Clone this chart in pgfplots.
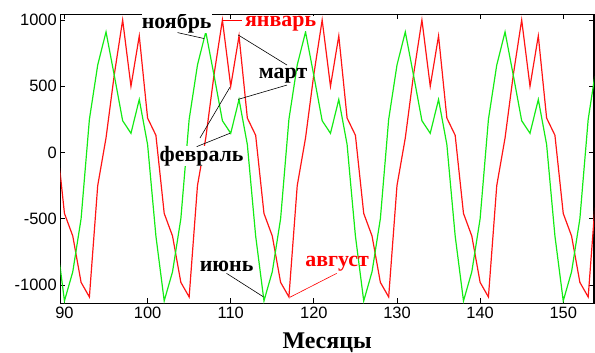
\documentclass[border=0pt]{standalone}
\usepackage{fontspec}
\setmainfont{Liberation Serif}
\setsansfont{Liberation Sans}
\usepackage{pgfplots}
\pgfplotsset{compat=1.18}
\definecolor{cred}{RGB}{255,20,20}
\definecolor{cgreen}{RGB}{20,235,20}
\begin{document}
\begin{tikzpicture}
\useasboundingbox (0,0) rectangle (595bp,353bp);
\begin{axis}[
  at={(60.3bp,49.7bp)}, anchor=south west,
  scale only axis, width=533.7bp, height=289bp,
  xmin=89.5, xmax=153.7, ymin=-1138, ymax=1043,
  xtick={90,100,...,150}, ytick={-1000,-500,0,500,1000},
  tick align=inside, major tick length=5bp,
  axis line style={line width=1.1bp},
  tick style={black, line width=0.8bp},
  ticklabel style={font=\sffamily\fontsize{16.5}{19}\selectfont},
  /pgf/number format/assume math mode=true,
  /pgf/number format/1000 sep={},
  xlabel={\bfseries Месяцы},
  xlabel style={font=\fontsize{24}{28}\selectfont, at={(axis description cs:0.5,-0.137)}, anchor=center},
  clip=true,
]
\addplot[cred, line width=1.2bp] coordinates {
(89,130) (90,-460) (91,-630) (92,-980)
(93,-1090) (94,-250) (95,110) (96,590) (97,1000) (98,500) (99,880) (100,260) (101,130) (102,-460) (103,-630) (104,-980)
(105,-1090) (106,-250) (107,110) (108,590) (109,1000) (110,500) (111,880) (112,260) (113,130) (114,-460) (115,-630) (116,-980)
(117,-1090) (118,-250) (119,110) (120,590) (121,1000) (122,500) (123,880) (124,260) (125,130) (126,-460) (127,-630) (128,-980)
(129,-1090) (130,-250) (131,110) (132,590) (133,1000) (134,500) (135,880) (136,260) (137,130) (138,-460) (139,-630) (140,-980)
(141,-1090) (142,-250) (143,110) (144,590) (145,1000) (146,500) (147,880) (148,260) (149,130) (150,-460) (151,-630) (152,-980)
(153,-1090) (154,-250)
};
\addplot[cgreen, line width=1.2bp] coordinates {
(89,-630)
(90,-1120) (91,-900) (92,-500) (93,250) (94,660) (95,910) (96,580) (97,240) (98,145) (99,400) (100,60) (101,-630)
(102,-1120) (103,-900) (104,-500) (105,250) (106,660) (107,910) (108,580) (109,240) (110,145) (111,400) (112,60) (113,-630)
(114,-1120) (115,-900) (116,-500) (117,250) (118,660) (119,910) (120,580) (121,240) (122,145) (123,400) (124,60) (125,-630)
(126,-1120) (127,-900) (128,-500) (129,250) (130,660) (131,910) (132,580) (133,240) (134,145) (135,400) (136,60) (137,-630)
(138,-1120) (139,-900) (140,-500) (141,250) (142,660) (143,910) (144,580) (145,240) (146,145) (147,400) (148,60) (149,-630)
(150,-1120) (151,-900) (152,-500) (153,250) (154,660)
};
% annotations
\tikzset{ann/.style={font=\bfseries\fontsize{22}{26}\selectfont, inner sep=0pt}}
\node[ann, fill=white] at (axis cs:103.5,975) {ноябрь};
\draw[black, line width=0.6bp] (axis cs:103.6,905) -- (axis cs:106.8,860);
\node[ann, text=red, fill=white] at (axis cs:116.0,975) {январь};
\draw[red, line width=0.8bp] (axis cs:111.3,1000) -- (axis cs:109,1000);
\node[ann] at (axis cs:116.3,580) {март};
\draw[black, line width=0.6bp] (axis cs:116.77,660) -- (axis cs:110.9,887);
\draw[black, line width=0.6bp] (axis cs:116.77,509) -- (axis cs:110.9,401);
\node[ann, fill=white] at (axis cs:106.5,-25) {февраль};
\draw[black, line width=0.6bp] (axis cs:106.3,109) -- (axis cs:109.9,492);
\draw[black, line width=0.6bp] (axis cs:105.9,44) -- (axis cs:109.9,145);
\node[ann] at (axis cs:109.5,-857) {июнь};
\draw[black, line width=0.6bp] (axis cs:109.5,-912) -- (axis cs:113.9,-1088);
\node[ann, text=red] at (axis cs:122.8,-842) {август};
\draw[red, line width=0.6bp] (axis cs:122.75,-912) -- (axis cs:117.1,-1093);
\end{axis}
\end{tikzpicture}
\end{document}
